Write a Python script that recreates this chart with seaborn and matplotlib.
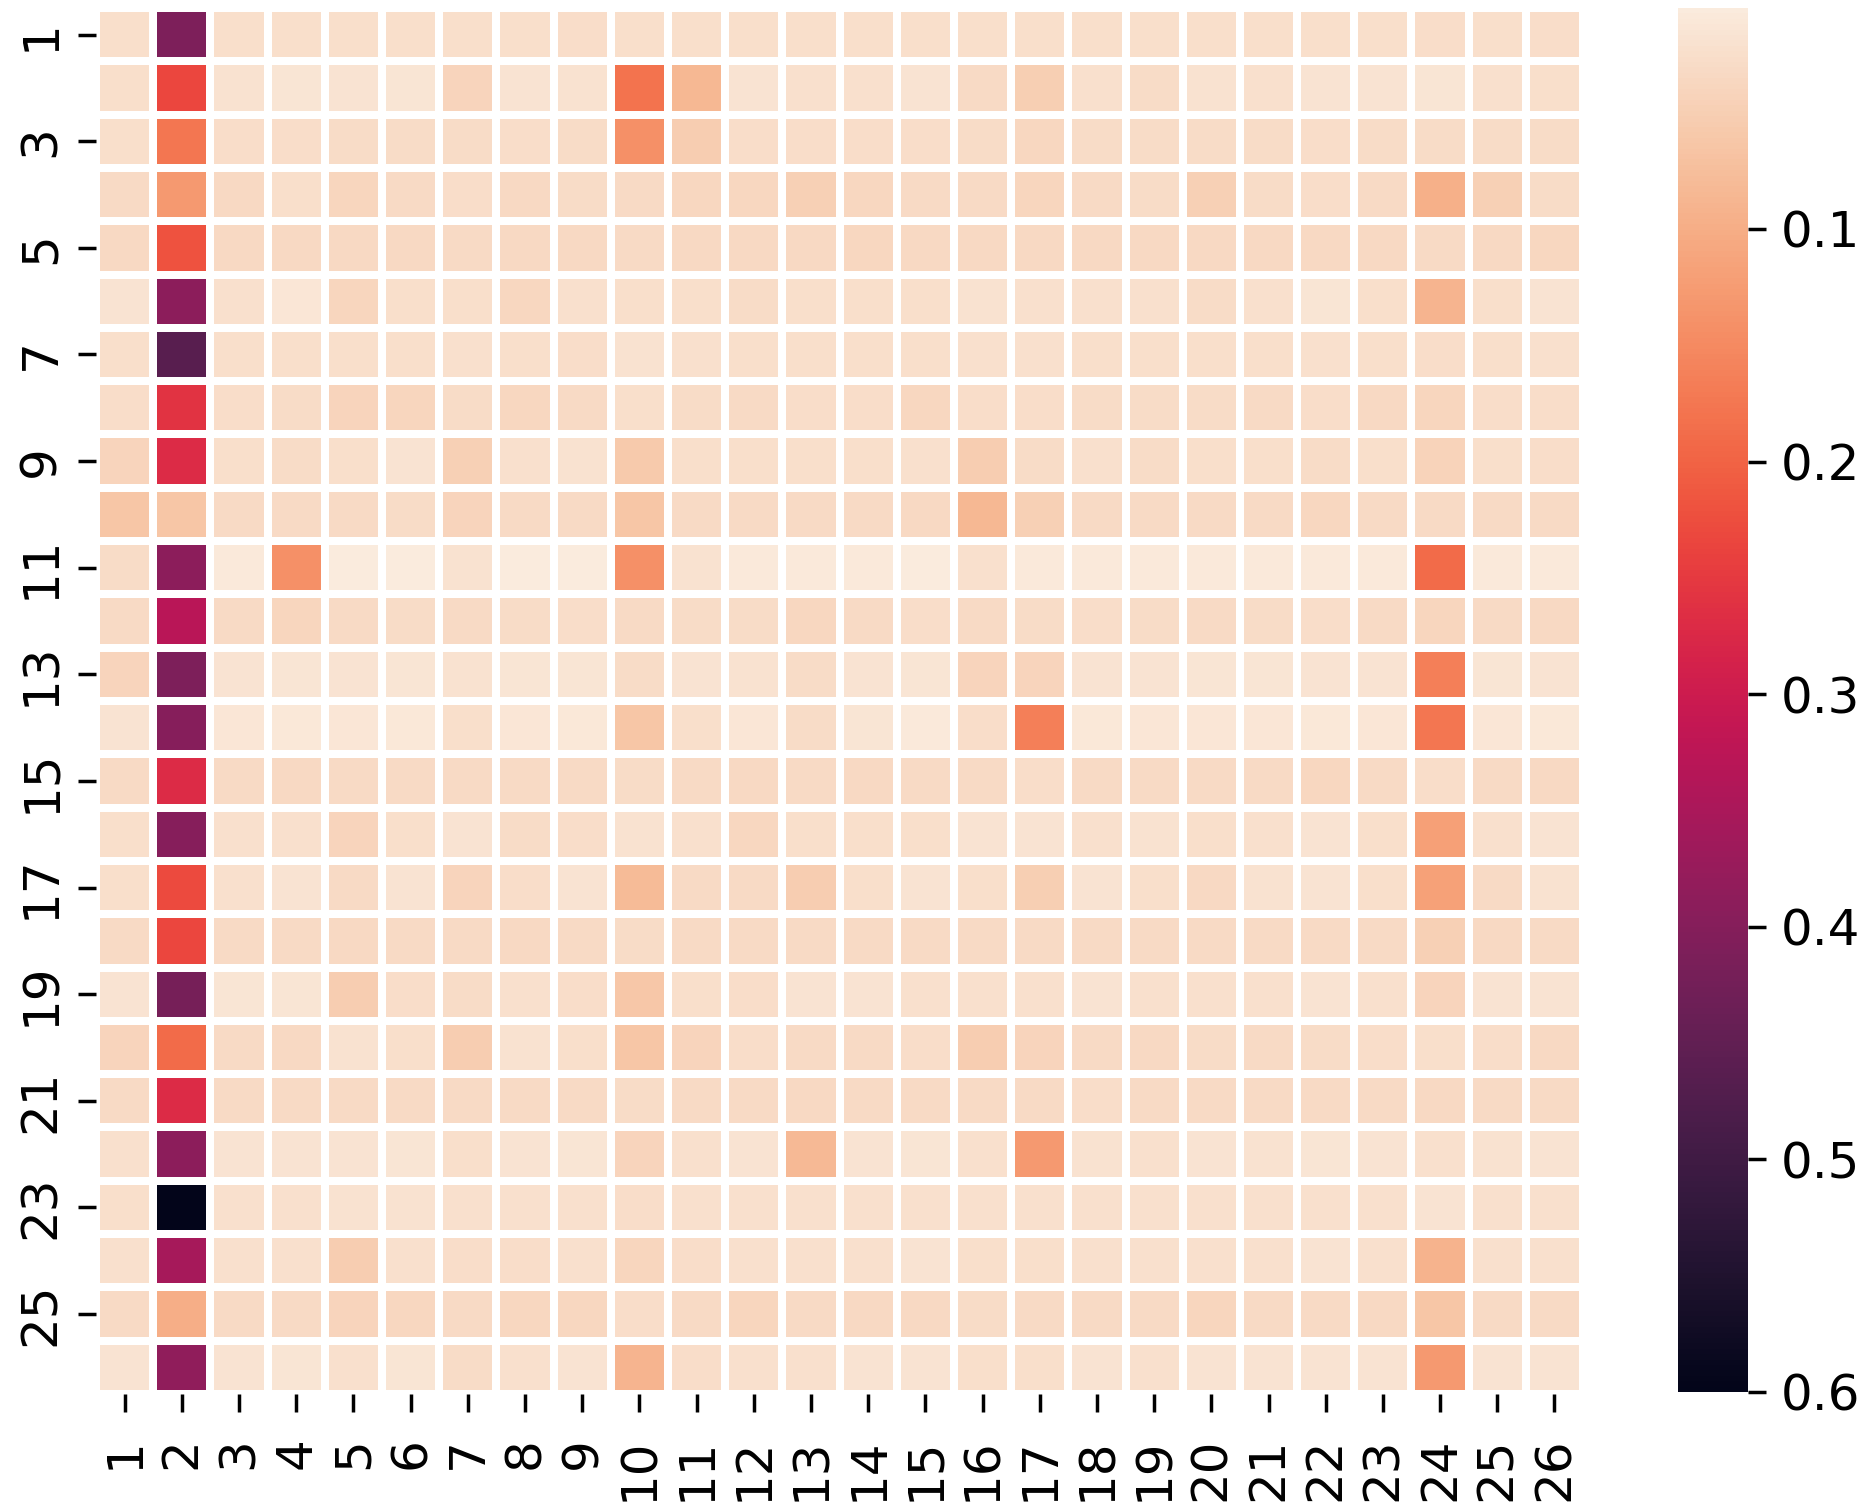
import pandas as pd
import matplotlib
matplotlib.use("Agg")
import matplotlib.pyplot as plt
import seaborn as sns


# axis labels (1..26 on both axes)
labels = list(range(1, 27))

# cell values, one list per row
row_01 = [0.024,0.410,0.024,0.024,0.024,0.024,0.024,0.024,0.026,0.024,0.024,0.024,0.024,0.024,0.024,0.024,0.024,0.024,0.024,0.024,0.024,0.024,0.024,0.028,0.024,0.027]
row_02 = [0.024,0.235,0.020,0.016,0.017,0.015,0.042,0.017,0.020,0.180,0.085,0.017,0.022,0.022,0.017,0.032,0.050,0.022,0.030,0.020,0.022,0.018,0.018,0.016,0.022,0.024]
row_03 = [0.025,0.175,0.026,0.027,0.030,0.030,0.030,0.027,0.030,0.140,0.052,0.026,0.027,0.028,0.028,0.030,0.036,0.029,0.030,0.030,0.029,0.026,0.029,0.030,0.029,0.030]
row_04 = [0.031,0.130,0.033,0.025,0.038,0.031,0.026,0.034,0.030,0.032,0.037,0.037,0.047,0.036,0.031,0.031,0.038,0.032,0.030,0.048,0.030,0.026,0.031,0.097,0.047,0.030]
row_05 = [0.033,0.220,0.034,0.033,0.033,0.033,0.032,0.033,0.033,0.032,0.033,0.033,0.034,0.036,0.033,0.033,0.034,0.033,0.033,0.033,0.033,0.033,0.033,0.032,0.034,0.037]
row_06 = [0.017,0.390,0.022,0.014,0.038,0.024,0.024,0.036,0.022,0.025,0.024,0.030,0.024,0.024,0.024,0.021,0.022,0.022,0.022,0.030,0.023,0.016,0.024,0.090,0.024,0.017]
row_07 = [0.024,0.465,0.024,0.024,0.025,0.024,0.023,0.024,0.028,0.020,0.023,0.024,0.024,0.025,0.024,0.022,0.022,0.024,0.024,0.024,0.024,0.022,0.024,0.026,0.025,0.023]
row_08 = [0.026,0.260,0.026,0.030,0.040,0.038,0.030,0.036,0.032,0.025,0.030,0.031,0.026,0.028,0.036,0.026,0.026,0.030,0.030,0.030,0.031,0.026,0.033,0.038,0.026,0.027]
row_09 = [0.040,0.270,0.024,0.029,0.025,0.018,0.048,0.023,0.019,0.058,0.025,0.024,0.024,0.024,0.023,0.052,0.030,0.023,0.030,0.024,0.024,0.030,0.024,0.043,0.024,0.028]
row_10 = [0.064,0.065,0.031,0.032,0.032,0.030,0.040,0.031,0.031,0.065,0.032,0.031,0.032,0.031,0.033,0.085,0.047,0.032,0.031,0.032,0.031,0.036,0.032,0.031,0.031,0.032]
row_11 = [0.030,0.390,0.008,0.140,0.007,0.006,0.020,0.007,0.007,0.140,0.021,0.008,0.008,0.008,0.007,0.022,0.008,0.008,0.009,0.008,0.008,0.008,0.008,0.190,0.008,0.009]
row_12 = [0.032,0.330,0.031,0.038,0.031,0.030,0.031,0.030,0.026,0.031,0.030,0.030,0.036,0.031,0.027,0.031,0.030,0.026,0.030,0.031,0.030,0.026,0.031,0.038,0.031,0.033]
row_13 = [0.040,0.410,0.017,0.015,0.018,0.016,0.021,0.016,0.016,0.030,0.017,0.020,0.030,0.017,0.016,0.040,0.042,0.017,0.017,0.016,0.016,0.017,0.017,0.165,0.016,0.017]
row_14 = [0.017,0.400,0.014,0.010,0.013,0.010,0.024,0.013,0.010,0.064,0.025,0.014,0.030,0.015,0.009,0.028,0.165,0.010,0.014,0.013,0.013,0.010,0.013,0.175,0.013,0.011]
row_15 = [0.032,0.270,0.032,0.034,0.032,0.032,0.031,0.032,0.031,0.030,0.031,0.033,0.031,0.033,0.032,0.031,0.028,0.031,0.031,0.031,0.031,0.036,0.031,0.026,0.032,0.033]
row_16 = [0.024,0.400,0.023,0.022,0.040,0.024,0.018,0.030,0.026,0.019,0.022,0.036,0.024,0.024,0.024,0.018,0.018,0.022,0.019,0.024,0.023,0.018,0.024,0.120,0.022,0.018]
row_17 = [0.025,0.230,0.023,0.017,0.032,0.018,0.040,0.026,0.018,0.080,0.032,0.031,0.052,0.024,0.018,0.025,0.050,0.018,0.024,0.033,0.019,0.018,0.024,0.118,0.032,0.019]
row_18 = [0.032,0.235,0.032,0.032,0.033,0.032,0.032,0.033,0.032,0.030,0.031,0.032,0.032,0.032,0.032,0.032,0.031,0.032,0.032,0.032,0.032,0.032,0.032,0.048,0.033,0.032]
row_19 = [0.017,0.420,0.016,0.016,0.052,0.028,0.030,0.023,0.028,0.062,0.024,0.028,0.017,0.018,0.022,0.023,0.022,0.018,0.022,0.022,0.022,0.018,0.022,0.040,0.018,0.018]
row_20 = [0.040,0.190,0.031,0.033,0.020,0.025,0.052,0.020,0.024,0.064,0.040,0.026,0.032,0.031,0.026,0.052,0.040,0.031,0.033,0.030,0.031,0.030,0.026,0.025,0.026,0.033]
row_21 = [0.032,0.270,0.032,0.032,0.031,0.031,0.031,0.032,0.031,0.030,0.031,0.031,0.033,0.031,0.031,0.032,0.032,0.027,0.031,0.031,0.031,0.031,0.031,0.034,0.031,0.031]
row_22 = [0.023,0.390,0.017,0.017,0.018,0.016,0.024,0.017,0.016,0.040,0.022,0.017,0.082,0.017,0.016,0.022,0.130,0.020,0.022,0.017,0.020,0.016,0.017,0.022,0.020,0.017]
row_23 = [0.024,0.600,0.022,0.022,0.019,0.019,0.023,0.022,0.022,0.027,0.022,0.022,0.023,0.022,0.022,0.023,0.023,0.022,0.022,0.022,0.022,0.022,0.022,0.017,0.022,0.022]
row_24 = [0.022,0.355,0.022,0.022,0.052,0.022,0.028,0.026,0.022,0.038,0.027,0.022,0.022,0.023,0.018,0.024,0.024,0.022,0.023,0.022,0.022,0.018,0.022,0.092,0.022,0.022]
row_25 = [0.031,0.100,0.031,0.031,0.040,0.036,0.031,0.037,0.036,0.026,0.032,0.038,0.032,0.033,0.033,0.030,0.031,0.032,0.031,0.038,0.031,0.031,0.033,0.064,0.032,0.031]
row_26 = [0.018,0.385,0.017,0.016,0.022,0.016,0.030,0.022,0.017,0.090,0.028,0.022,0.022,0.017,0.017,0.024,0.024,0.017,0.022,0.017,0.017,0.017,0.017,0.130,0.017,0.017]

rows = [row_01, row_02, row_03, row_04, row_05, row_06, row_07, row_08, row_09,
        row_10, row_11, row_12, row_13, row_14, row_15, row_16, row_17, row_18,
        row_19, row_20, row_21, row_22, row_23, row_24, row_25, row_26]

data = pd.DataFrame(rows, index=labels, columns=labels)

plt.rcParams['font.family'] = ['DejaVu Sans']
plt.rcParams['font.size'] = 18

fig = plt.figure(figsize=(9.31, 7.53), dpi=200)
ax = fig.add_axes([0.0516, 0.0744, 0.7986, 0.9203])
cax = fig.add_axes([0.901, 0.0757, 0.0376, 0.919])

sns.heatmap(data, ax=ax, cbar_ax=cax, cmap='rocket_r', vmin=0.005, vmax=0.6,
            linewidths=2.2, linecolor='white', xticklabels=1, yticklabels=2)
cax.invert_yaxis()

ax.tick_params(length=6.5, width=1.25, labelsize=18)
ax.tick_params(axis='x', pad=9)
ax.tick_params(axis='y', pad=4.8)
cax.tick_params(length=6.5, width=1.25, labelsize=18, pad=5.3)
plt.setp(ax.get_xticklabels(), rotation=90)
plt.setp(ax.get_yticklabels(), rotation=90, va='center')

fig.savefig('out.png', dpi=200)
